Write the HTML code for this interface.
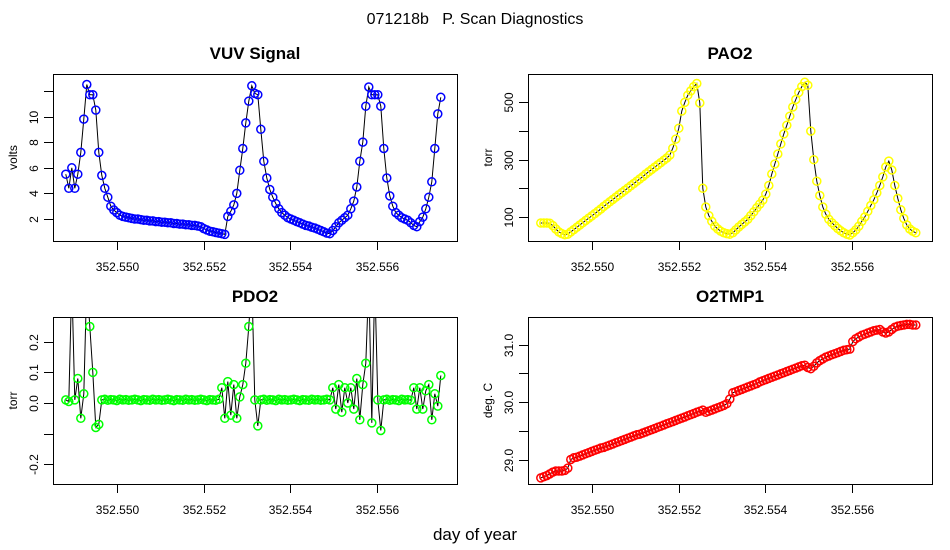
<!DOCTYPE html>
<html><head><meta charset="utf-8"><style>
html,body{margin:0;padding:0;background:#fff;}
svg{display:block;font-family:"Liberation Sans",Arial,sans-serif;}
</style></head><body>
<svg id="chart" width="950" height="550" viewBox="0 0 950 550">
<text x="475" y="24" font-size="16" text-anchor="middle" xml:space="preserve">071218b   P. Scan Diagnostics</text>
<text x="475" y="540" font-size="17" text-anchor="middle">day of year</text>
</svg>
<script>
const T0 = 352.54882, DT = 0.0000692;
const xTicks = [352.550, 352.552, 352.554, 352.556];
const xTickLabels = ["352.550", "352.552", "352.554", "352.556"];

const vuvValues = [5.5,4.4,6.0,4.4,5.5,7.2,9.8,12.5,11.7,11.7,10.5,7.2,5.4,4.4,3.7,3.0,2.7,2.5,2.3,2.2,2.15,2.1,2.05,2.0,2.0,1.95,1.9,1.9,1.85,1.85,1.8,1.8,1.75,1.75,1.7,1.7,1.65,1.65,1.6,1.6,1.55,1.55,1.5,1.5,1.45,1.4,1.25,1.15,1.05,1.0,0.95,0.9,0.85,0.8,2.2,2.6,3.1,4.0,5.8,7.5,9.5,11.2,12.4,11.8,11.7,9.0,6.5,5.2,4.3,3.7,3.2,2.8,2.5,2.3,2.1,2.0,1.9,1.8,1.7,1.6,1.5,1.45,1.35,1.3,1.2,1.1,1.0,0.9,0.85,1.1,1.4,1.7,1.9,2.1,2.3,2.8,3.4,4.5,6.5,8.0,10.8,12.3,11.7,11.7,11.7,10.8,7.5,5.2,3.8,3.0,2.5,2.3,2.1,2.0,1.9,1.7,1.5,1.4,1.8,2.15,2.8,3.7,4.9,7.5,10.2,11.5];
const vuvTicks = [2,4,6,8,10,12];
const vuvTickLabels = ["2","4","6","8","10",""];

const pao2Values = [79,79,79,78,70,58,48,42,38,40,48,56,64,72,80,88,96,104,112,120,128,137,145,153,161,169,177,185,193,201,209,217,225,233,241,250,258,266,274,282,290,298,306,316,340,372,410,470,500,525,540,555,566,498,200,135,105,85,68,58,50,45,42,40,45,55,65,74,83,92,105,118,132,145,159,180,210,250,285,320,355,390,420,452,484,510,535,555,570,560,400,300,225,175,135,110,92,80,70,60,52,45,40,37,45,55,68,85,100,120,140,160,184,210,240,275,295,264,210,165,125,95,72,58,50,45];
const pao2Ticks = [100,200,300,400,500];
const pao2TickLabels = ["100","","300","","500"];

const pdo2Values = [0.01,0.005,0.4,0.01,0.08,-0.05,0.03,0.4,0.25,0.1,-0.08,-0.07,0.01,0.012,0.009,0.011,0.01,0.008,0.012,0.01,0.011,0.009,0.01,0.012,0.01,0.008,0.011,0.01,0.009,0.012,0.01,0.011,0.009,0.01,0.012,0.01,0.008,0.011,0.01,0.009,0.012,0.01,0.011,0.009,0.01,0.012,0.01,0.008,0.011,0.01,0.009,0.012,0.05,-0.05,0.07,-0.04,0.06,-0.05,0.02,0.06,0.13,0.25,0.4,0.01,-0.075,0.01,0.012,0.009,0.011,0.01,0.008,0.012,0.01,0.011,0.009,0.01,0.012,0.01,0.008,0.011,0.01,0.009,0.012,0.01,0.011,0.009,0.01,0.012,0.01,0.05,-0.02,0.06,-0.03,0.05,0.0,0.05,-0.02,0.08,-0.055,0.06,0.13,0.4,-0.065,0.4,0.01,-0.09,0.01,0.012,0.009,0.011,0.01,0.008,0.012,0.01,0.011,0.009,0.05,-0.02,0.05,-0.02,0.04,0.06,-0.055,0.03,-0.01,0.09];
const pdo2Ticks = [-0.2,-0.1,0.0,0.1,0.2];
const pdo2TickLabels = ["-0.2","","0.0","0.1","0.2"];

const tempValues = [28.68,28.70,28.72,28.75,28.78,28.80,28.80,28.80,28.81,28.85,29.0,29.03,29.04,29.06,29.08,29.10,29.12,29.14,29.16,29.18,29.20,29.21,29.23,29.25,29.27,29.29,29.31,29.33,29.35,29.37,29.39,29.41,29.43,29.44,29.46,29.48,29.50,29.52,29.54,29.56,29.58,29.60,29.62,29.64,29.66,29.68,29.70,29.72,29.74,29.76,29.78,29.80,29.82,29.84,29.86,29.82,29.84,29.86,29.88,29.90,29.92,29.94,29.97,30.05,30.16,30.18,30.20,30.22,30.24,30.26,30.28,30.30,30.32,30.35,30.37,30.39,30.41,30.43,30.45,30.47,30.49,30.51,30.53,30.55,30.57,30.59,30.61,30.63,30.64,30.60,30.58,30.62,30.68,30.72,30.75,30.78,30.80,30.82,30.84,30.86,30.88,30.90,30.91,30.92,31.05,31.10,31.13,31.16,31.18,31.20,31.22,31.24,31.25,31.26,31.22,31.20,31.22,31.26,31.30,31.32,31.33,31.34,31.35,31.35,31.34,31.34];
const tempTicks = [29.0,29.5,30.0,30.5,31.0];
const tempTickLabels = ["29.0","","30.0","","31.0"];

const NS = "http://www.w3.org/2000/svg";
const svg = document.getElementById("chart");
function mk(tag, attrs, parent) {
  const e = document.createElementNS(NS, tag);
  for (const k in attrs) e.setAttribute(k, attrs[k]);
  (parent || svg).appendChild(e);
  return e;
}

const panels = [
  {id:"vuv", title:"VUV Signal", ylab:"volts", left:53, right:457, top:74, bottom:241,
   vals:vuvValues, ticks:vuvTicks, tlabels:vuvTickLabels, color:"#0000ff",
   y0:2, py0:219, y1:10, py1:116.5},
  {id:"pao2", title:"PAO2", ylab:"torr", left:528, right:932, top:74, bottom:241,
   vals:pao2Values, ticks:pao2Ticks, tlabels:pao2TickLabels, color:"#ffff00",
   y0:100, py0:217, y1:500, py1:102.4},
  {id:"pdo2", title:"PDO2", ylab:"torr", left:53, right:457, top:317, bottom:484,
   vals:pdo2Values, ticks:pdo2Ticks, tlabels:pdo2TickLabels, color:"#00ff00",
   y0:0, py0:403, y1:0.2, py1:341.8},
  {id:"o2tmp1", title:"O2TMP1", ylab:"deg. C", left:528, right:932, top:317, bottom:484,
   vals:tempValues, ticks:tempTicks, tlabels:tempTickLabels, color:"#ff0000",
   y0:29, py0:459.5, y1:31, py1:344.5}
];

panels.forEach(function(p) {
  const xs = function(t) { return p.left + 64 + (t - 352.550) * 43350; };
  const ys = function(v) { return p.py0 + (v - p.y0) * (p.py1 - p.py0) / (p.y1 - p.y0); };
  const g = mk("g", {});
  
  
  const cp = mk("clipPath", {id:"clip-" + p.id}, g);
  mk("rect", {x:p.left, y:p.top, width:p.right - p.left, height:p.bottom - p.top}, cp);

  const title = mk("text", {x:(p.left + p.right) / 2, y:p.top - 15, "font-size":17, "font-weight":"bold", "text-anchor":"middle"}, g);
  title.textContent = p.title;
  
  

  const ylab = mk("text", {x:0, y:0, "font-size":12, "text-anchor":"middle", transform:"translate(" + (p.left - 36) + "," + ((p.top + p.bottom) / 2) + ") rotate(-90)"}, g);
  ylab.textContent = p.ylab;
  
  

  let d = "";
  p.vals.forEach(function(v, i) {
    const x = xs(T0 + i * DT), y = ys(v);
    d += (i ? "L" : "M") + x.toFixed(1) + " " + y.toFixed(1);
  });
  const line = mk("path", {d:d, fill:"none", stroke:"#000", "stroke-width":1, "clip-path":"url(#clip-" + p.id + ")"}, g);
  
  
  const pts = mk("g", {"clip-path":"url(#clip-" + p.id + ")"}, g);
  
  
  p.vals.forEach(function(v, i) {
    const c = mk("circle", {cx:xs(T0 + i * DT).toFixed(1), cy:ys(v).toFixed(1), r:4, fill:"none", stroke:p.color, "stroke-width":1.5}, pts);
    
    
  });

  const fr = mk("rect", {x:p.left + 0.5, y:p.top + 0.5, width:p.right - p.left, height:p.bottom - p.top, fill:"none", stroke:"#000", "stroke-width":1}, g);
  
  

  xTicks.forEach(function(t, i) {
    const x = Math.round(xs(t)) + 0.5;
    const tk = mk("line", {x1:x, x2:x, y1:p.bottom, y2:p.bottom + 9, stroke:"#000"}, g);
    
    
    const tl = mk("text", {x:x, y:p.bottom + 30, "font-size":12, "text-anchor":"middle"}, g);
    tl.textContent = xTickLabels[i];
    
    
  });
  p.ticks.forEach(function(v, i) {
    const y = Math.round(ys(v)) + 0.5;
    const tk = mk("line", {x1:p.left - 9, x2:p.left, y1:y, y2:y, stroke:"#000"}, g);
    
    
    if (p.tlabels[i]) {
      const tl = mk("text", {x:0, y:0, "font-size":12, "text-anchor":"middle", transform:"translate(" + (p.left - 15) + "," + y + ") rotate(-90)"}, g);
      tl.textContent = p.tlabels[i];
      
      
    }
  });
});
</script>
</body></html>
